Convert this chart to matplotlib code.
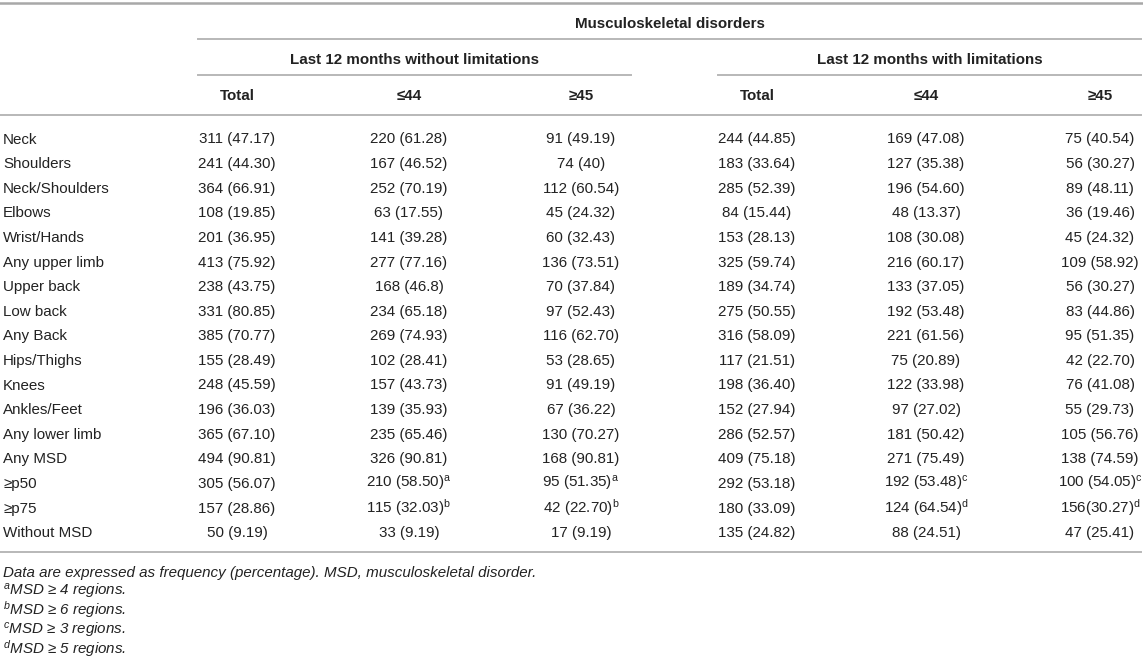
import matplotlib
matplotlib.use("Agg")
import matplotlib.pyplot as plt

plt.rcParams['font.family'] = ['Liberation Sans', 'DejaVu Sans']
plt.rcParams['mathtext.fontset'] = 'custom'
plt.rcParams['mathtext.rm'] = 'Liberation Sans'
plt.rcParams['mathtext.it'] = 'Liberation Sans:italic'

# table content
title = "Musculoskeletal disorders"
groups = ["Last 12 months without limitations", "Last 12 months with limitations"]
col_heads = ["Total", "≤44", "≥45", "Total", "≤44", "≥45"]

row_labels = ["Neck", "Shoulders", "Neck/Shoulders", "Elbows", "Wrist/Hands",
              "Any upper limb", "Upper back", "Low back", "Any Back", "Hips/Thighs",
              "Knees", "Ankles/Feet", "Any lower limb", "Any MSD", "≥p50", "≥p75",
              "Without MSD"]

total_wo = ["311 (47.17)", "241 (44.30)", "364 (66.91)", "108 (19.85)", "201 (36.95)",
            "413 (75.92)", "238 (43.75)", "331 (80.85)", "385 (70.77)", "155 (28.49)",
            "248 (45.59)", "196 (36.03)", "365 (67.10)", "494 (90.81)", "305 (56.07)",
            "157 (28.86)", "50 (9.19)"]
le44_wo = ["220 (61.28)", "167 (46.52)", "252 (70.19)", "63 (17.55)", "141 (39.28)",
           "277 (77.16)", "168 (46.8)", "234 (65.18)", "269 (74.93)", "102 (28.41)",
           "157 (43.73)", "139 (35.93)", "235 (65.46)", "326 (90.81)", "210 (58.50)",
           "115 (32.03)", "33 (9.19)"]
ge45_wo = ["91 (49.19)", "74 (40)", "112 (60.54)", "45 (24.32)", "60 (32.43)",
           "136 (73.51)", "70 (37.84)", "97 (52.43)", "116 (62.70)", "53 (28.65)",
           "91 (49.19)", "67 (36.22)", "130 (70.27)", "168 (90.81)", "95 (51.35)",
           "42 (22.70)", "17 (9.19)"]
total_w = ["244 (44.85)", "183 (33.64)", "285 (52.39)", "84 (15.44)", "153 (28.13)",
           "325 (59.74)", "189 (34.74)", "275 (50.55)", "316 (58.09)", "117 (21.51)",
           "198 (36.40)", "152 (27.94)", "286 (52.57)", "409 (75.18)", "292 (53.18)",
           "180 (33.09)", "135 (24.82)"]
le44_w = ["169 (47.08)", "127 (35.38)", "196 (54.60)", "48 (13.37)", "108 (30.08)",
          "216 (60.17)", "133 (37.05)", "192 (53.48)", "221 (61.56)", "75 (20.89)",
          "122 (33.98)", "97 (27.02)", "181 (50.42)", "271 (75.49)", "192 (53.48)",
          "124 (64.54)", "88 (24.51)"]
ge45_w = ["75 (40.54)", "56 (30.27)", "89 (48.11)", "36 (19.46)", "45 (24.32)",
          "109 (58.92)", "56 (30.27)", "83 (44.86)", "95 (51.35)", "42 (22.70)",
          "76 (41.08)", "55 (29.73)", "105 (56.76)", "138 (74.59)", "100 (54.05)",
          "156(30.27)", "47 (25.41)"]

# superscripts: (row, column) -> letter
marks = {(14, 1): "a", (14, 2): "a", (15, 1): "b", (15, 2): "b",
         (14, 4): "c", (14, 5): "c", (15, 4): "d", (15, 5): "d"}

note_main = "Data are expressed as frequency (percentage). MSD, musculoskeletal disorder."
note_marks = ["a", "b", "c", "d"]
note_texts = ["MSD ≥ 4 regions.", "MSD ≥ 6 regions.", "MSD ≥ 3 regions.", "MSD ≥ 5 regions."]

columns = [total_wo, le44_wo, ge45_wo, total_w, le44_w, ge45_w]

# layout (pixels)
W, H = 1143, 659
col_x = [237, 409, 581, 757, 926, 1100]
row_y0, row_dy = 138, 24.6
bl = 5.5  # baseline offset below the row centre
line_col = "#b8b8b8"
txt_col = "#222222"
fs = 10.9

fig = plt.figure(figsize=(W / 100, H / 100), dpi=100)
ax = fig.add_axes([0, 0, 1, 1])
ax.set_xlim(0, W)
ax.set_ylim(H, 0)
ax.axis('off')

# rules
ax.plot([0, W], [3, 3], color="#a8a8a8", lw=1.8)
ax.plot([198, 1141], [39, 39], color=line_col, lw=1.4)
ax.plot([198, 631], [75, 75], color=line_col, lw=1.4)
ax.plot([718, 1141], [75, 75], color=line_col, lw=1.4)
ax.plot([0, 1141], [115, 115], color=line_col, lw=1.4)
ax.plot([0, 1141], [552, 552], color=line_col, lw=1.4)

# headers
ax.text(670, 23 + bl, title, ha='center', va='baseline', fontsize=fs, fontweight='bold', color=txt_col)
ax.text(415, 58 + bl, groups[0], ha='center', va='baseline', fontsize=fs, fontweight='bold', color=txt_col)
ax.text(930, 58 + bl, groups[1], ha='center', va='baseline', fontsize=fs, fontweight='bold', color=txt_col)
for x, h in zip(col_x, col_heads):
    ax.text(x, 95 + bl, h, ha='center', va='baseline', fontsize=fs, fontweight='bold', color=txt_col)

# body
for i, lab in enumerate(row_labels):
    y = row_y0 + i * row_dy + bl
    ax.text(3, y, lab, ha='left', va='baseline', fontsize=fs, color=txt_col)
    for j, col in enumerate(columns):
        s = col[i]
        if (i, j) in marks:
            s = s + r"$^{\mathregular{%s}}$" % marks[(i, j)]
        ax.text(col_x[j], y, s, ha='center', va='baseline', fontsize=fs, color=txt_col)

# footnotes
ax.text(3, 571 + bl, note_main, ha='left', va='baseline', fontsize=fs, style='italic', color=txt_col)
for k, (m, s) in enumerate(zip(note_marks, note_texts)):
    ax.text(3, 590 + k * 19.3 + bl, r"$^{\mathit{%s}}$" % m + s, ha='left', va='baseline',
            fontsize=fs, style='italic', color=txt_col)

fig.savefig("out.png", dpi=100)
